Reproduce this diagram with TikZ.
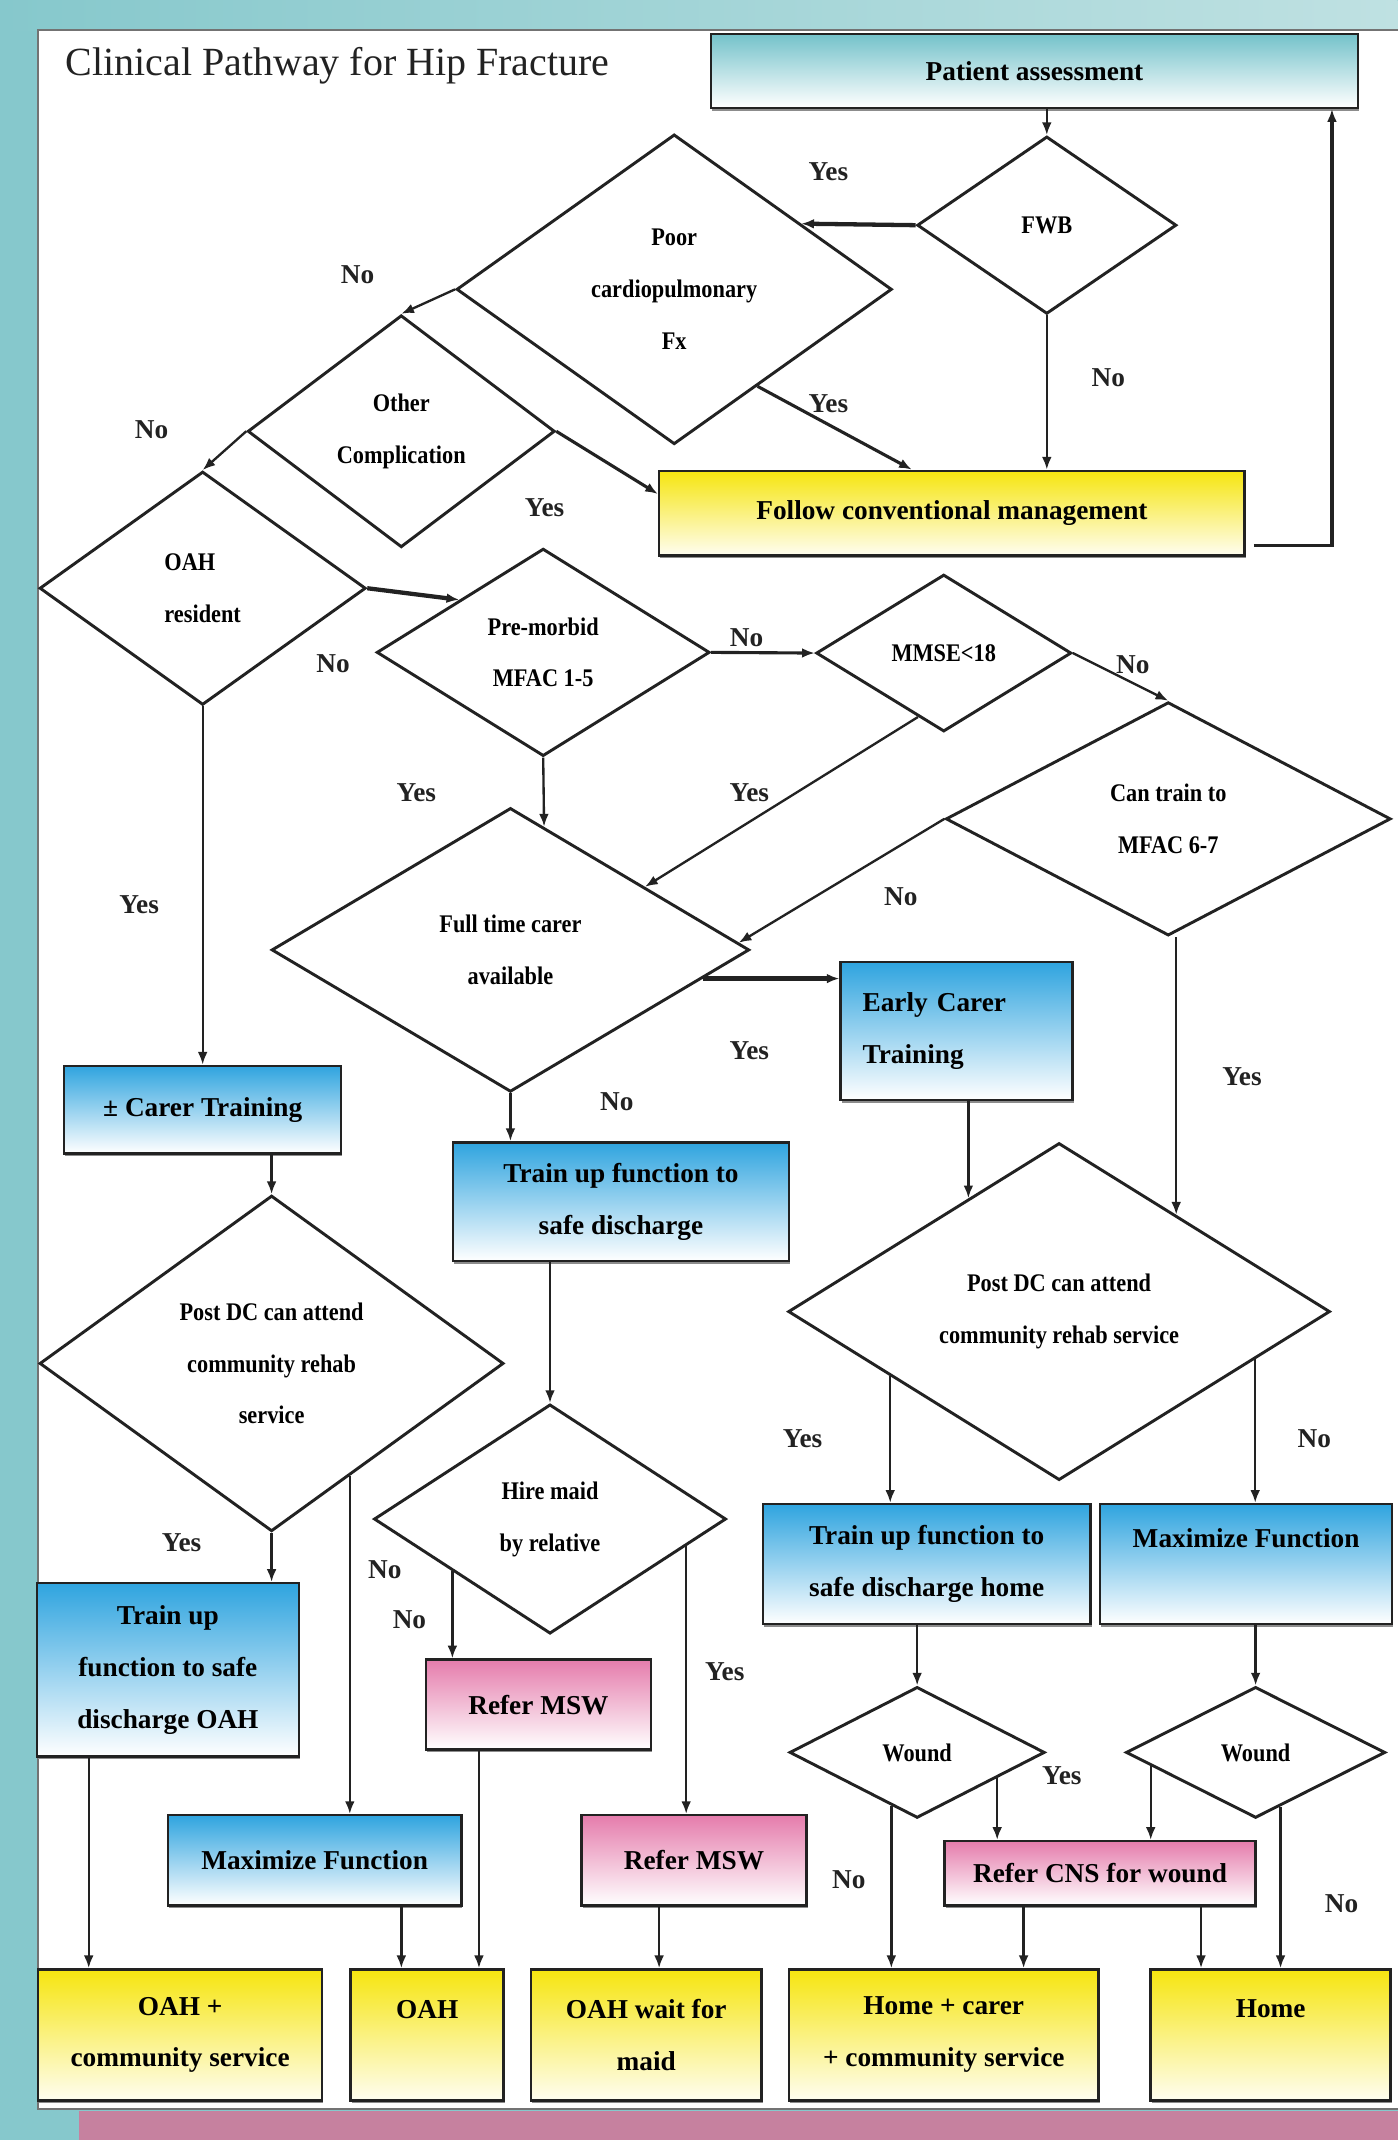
\documentclass[tikz,border=0pt]{standalone}
\usepackage{fontspec}
\setmainfont{Liberation Serif}
\newfontfamily\hipcond[FakeStretch=0.88]{Liberation Serif}
\usetikzlibrary{arrows.meta,shapes.geometric,calc,shadows}
\definecolor{hipInk}{HTML}{222222}
\definecolor{hipTeal}{HTML}{86C8CC}
\definecolor{hipTealLight}{HTML}{BFE1E2}
\definecolor{hipPinkBar}{HTML}{C6819F}
\definecolor{hipBoxTeal}{HTML}{74C2CA}
\definecolor{hipBlue}{HTML}{2FA4DF}
\definecolor{hipYellow}{HTML}{F6E50F}
\definecolor{hipRose}{HTML}{E57CAC}
\newcommand\hipboxfont{\fontsize{14}{26.6}\selectfont\bfseries}
\newcommand\hipdecfont{\hipcond\fontsize{13}{26.6}\selectfont\bfseries}
\tikzset{
  hip/size/.style 2 args={minimum width=#1*0.7pt, minimum height=#2*0.7pt},
  hip/box/.style={draw=hipInk, line width=1.3pt, align=center, inner sep=0pt,
    font=\hipboxfont, drop shadow={shadow xshift=0.6pt, shadow yshift=-1.4pt,
    fill=black!45, opacity=1}},
  hip/blue/.style={hip/box, top color=hipBlue, bottom color=white},
  hip/yellow/.style={hip/box, top color=hipYellow, bottom color=hipYellow!6},
  hip/pink/.style={hip/box, top color=hipRose, bottom color=white},
  hip/teal/.style={hip/box, top color=hipBoxTeal, bottom color=white},
  hip/decision/.style={diamond, draw=hipInk, line width=1.5pt, fill=white,
    align=center, inner sep=0pt, font=\hipdecfont},
  hip/arrow/.style={-{Latex[length=6.5pt,width=5pt]}, draw=hipInk,
    line width=1.2pt},
  hip/heavy/.style={hip/arrow, line width=2.2pt},
  hip/label/.style={font=\hipboxfont, text=hipInk},
  hip/title/.style={font=\fontsize{20.5}{24}\selectfont, text=hipInk},
}

\begin{document}
\begin{tikzpicture}[x=0.7pt, y=-0.7pt]
\useasboundingbox (0,0) rectangle (1024,1568);
% page background
\fill[hipTeal] (0,0) rectangle (1024,1568);
\shade[left color=hipTeal, right color=hipTealLight] (0,0) rectangle (1024,22);
\fill[white] (28,22) rectangle (1024,1545);
\draw[black!55, line width=1pt] (1024,22) -- (28,22) -- (28,1545) -- (1024,1545);
\fill[hipPinkBar] (58,1547) rectangle (1024,1568);

\node[hip/title, anchor=west] (title) at (43,48) {Clinical Pathway for Hip Fracture};

% nodes
\node[hip/teal, hip/size={474}{54}] (assess) at (758,52) {Patient assessment};
\node[hip/decision, hip/size={190}{130}] (fwb) at (767,165) {FWB};
\node[hip/decision, hip/size={319}{227}] (poor) at (494,212) {Poor\\cardiopulmonary\\Fx};
\node[hip/decision, hip/size={225}{170}] (other) at (294,316) {Other\\Complication};
\node[hip/yellow, hip/size={429}{62}] (follow) at (697.5,376) {Follow conventional management};
\node[hip/decision, hip/size={239}{171}, align=left] (oahres) at (148.5,431) {OAH\\resident};
\node[hip/decision, hip/size={244}{152}] (premorbid) at (398,478) {Pre-morbid\\MFAC 1-5};
\node[hip/decision, hip/size={187}{115}] (mmse) at (691.5,478.5) {MMSE<18};
\node[hip/decision, hip/size={326}{171}] (cantrain) at (856,600) {Can train to\\MFAC 6-7};
\node[hip/decision, hip/size={350}{208}] (fulltime) at (374,696) {Full time carer\\available};
\node[hip/blue, hip/size={170}{101}, text width=138*0.7pt, align=left,
  inner xsep=16*0.7pt] (early) at (701,755.5) {Early Carer\\Training};
\node[hip/blue, hip/size={203}{64}] (carer) at (148.5,813) {± Carer Training};
\node[hip/blue, hip/size={246}{87}] (trainmid) at (455,880.5) {Train up function to\\safe discharge};
\node[hip/decision, hip/size={397}{247}] (postdcR) at (776,961) {Post DC can attend\\community rehab service};
\node[hip/decision, hip/size={340}{246}] (postdcL) at (199,999) {Post DC can attend\\community rehab\\service};
\node[hip/decision, hip/size={258}{168}] (hire) at (403,1113) {Hire maid\\by relative};
\node[hip/blue, hip/size={240}{88}] (trainhome) at (679,1146) {Train up function to\\safe discharge home};
\node[hip/blue, hip/size={214}{88}] (maxright) at (913,1146) {Maximize Function\\\mbox{}};
\node[hip/blue, hip/size={192}{127}] (trainoah) at (123,1223.5) {Train up\\function to safe\\discharge OAH};
\node[hip/pink, hip/size={165}{66}] (mswleft) at (394.5,1249) {Refer MSW};
\node[hip/decision, hip/size={187}{96}] (woundL) at (672,1284) {Wound};
\node[hip/decision, hip/size={190}{96}] (woundR) at (920,1284) {Wound};
\node[hip/blue, hip/size={215}{66}] (maxleft) at (230.5,1363) {Maximize Function};
\node[hip/pink, hip/size={165}{66}] (mswright) at (508.5,1363) {Refer MSW};
\node[hip/pink, hip/size={228}{47}] (cns) at (806,1372.5) {Refer CNS for wound};
\node[hip/yellow, hip/size={208}{96}] (oahcomm) at (132,1491) {OAH +\\community service};
\node[hip/yellow, hip/size={112}{96}] (oah) at (313,1491) {OAH\\\mbox{}};
\node[hip/yellow, hip/size={169}{96}] (oahmaid) at (473.5,1491) {OAH wait for\\maid};
\node[hip/yellow, hip/size={227}{96}] (homecarer) at (691.5,1491) {Home + carer\\+ community service};
\node[hip/yellow, hip/size={176}{96}] (home) at (931,1491) {Home\\\mbox{}};

% points on the diamond edges
\coordinate (pdrTop) at ($(postdcR.north)!0.43!(postdcR.east)$);
\coordinate (pdrLeft) at ($(postdcR.west)!0.667!(postdcR.north)$);
\coordinate (pdrYes) at ($(postdcR.west)!0.38!(postdcR.south)$);
\coordinate (pdrNo) at ($(postdcR.east)!0.28!(postdcR.south)$);
\coordinate (wlYes) at ($(woundL.east)!0.38!(woundL.south)$);
\coordinate (wrYes) at ($(woundR.west)!0.2!(woundR.south)$);
\coordinate (wlNo) at ($(woundL.west)!0.8!(woundL.south)$);
\coordinate (wrNo) at ($(woundR.east)!0.81!(woundR.south)$);
\coordinate (pdlNo) at ($(postdcL.east)!0.665!(postdcL.south)$);
\coordinate (hireNo) at ($(hire.west)!0.45!(hire.south)$);
\coordinate (hireYes) at ($(hire.east)!0.233!(hire.south)$);

% connectors
\draw[hip/arrow] (assess.south -| fwb.north) -- (fwb.north);
\draw[hip/heavy] (fwb.west) -- ($(poor.north)!0.58!(poor.east)$);
\draw[hip/arrow] (fwb.south) -- (fwb.south |- follow.north);
\draw[hip/arrow, line width=1.6pt] ($(poor.east)!0.62!(poor.south)$) -- ([xshift=-20.6pt]follow.north);
\draw[hip/arrow] (poor.west) -- (other.north);
\draw[hip/arrow, line width=1.6pt] (other.east) -- ([yshift=9.8pt]follow.west);
\draw[hip/arrow] (other.west) -- (oahres.north);
\draw[hip/arrow, line width=1.6pt] ([xshift=4pt,yshift=-16.8pt]follow.east) -| ([xshift=-14pt]assess.south east);
\draw[hip/heavy] (oahres.east) -- ($(premorbid.west)!0.5!(premorbid.north)$);
\draw[hip/arrow] (oahres.south) -- (oahres.south |- carer.north);
\draw[hip/arrow, line width=1.6pt] (premorbid.east) -- (mmse.west);
\draw[hip/arrow] (premorbid.south) -- ($(fulltime.north)!0.14!(fulltime.east)$);
\draw[hip/arrow] ($(mmse.west)!0.8!(mmse.south)$) -- ($(fulltime.north)!0.56!(fulltime.east)$);
\draw[hip/arrow] (mmse.east) -- (cantrain.north);
\draw[hip/arrow] (cantrain.west) -- ($(fulltime.north)!0.95!(fulltime.east)$);
\draw[hip/arrow] (pdrTop |- cantrain.south) -- (pdrTop);
\draw[hip/heavy] ($(fulltime.east)!0.2!(fulltime.south)$) coordinate (ftEarly) -- (early.west |- ftEarly);
\draw[hip/arrow] (early.south -| pdrLeft) -- (pdrLeft);
\draw[hip/arrow] (fulltime.south) -- (fulltime.south |- trainmid.north);
\draw[hip/arrow] (trainmid.south -| hire.north) -- (hire.north);
\draw[hip/arrow] (pdrYes) -- (pdrYes |- trainhome.north);
\draw[hip/arrow] (pdrNo) -- (pdrNo |- maxright.north);
\draw[hip/arrow] (trainhome.south -| woundL.north) -- (woundL.north);
\draw[hip/arrow] (maxright.south -| woundR.north) -- (woundR.north);
\draw[hip/arrow] (wlYes) -- (wlYes |- cns.north);
\draw[hip/arrow] (wrYes) -- (wrYes |- cns.north);
\draw[hip/arrow] (wlNo) -- (wlNo |- homecarer.north);
\draw[hip/arrow] (wrNo) -- (wrNo |- home.north);
\draw[hip/arrow] ([xshift=-39.2pt]cns.south) -- ([xshift=-39.2pt]cns.south |- homecarer.north);
\draw[hip/arrow] ([xshift=51.8pt]cns.south) -- ([xshift=51.8pt]cns.south |- home.north);
\draw[hip/arrow] (carer.south -| postdcL.north) -- (postdcL.north);
\draw[hip/arrow] (postdcL.south) -- (postdcL.south |- trainoah.north);
\draw[hip/arrow] (pdlNo) -- (pdlNo |- maxleft.north);
\draw[hip/arrow] (hireNo) -- (hireNo |- mswleft.north);
\draw[hip/arrow] (hireYes) -- (hireYes |- mswright.north);
\draw[hip/arrow] ([xshift=-40.6pt]trainoah.south) -- ([xshift=-40.6pt]trainoah.south |- oahcomm.north);
\draw[hip/arrow] ([xshift=44.5pt]maxleft.south) -- ([xshift=44.5pt]maxleft.south |- oah.north);
\draw[hip/arrow] ([xshift=-30.5pt]mswleft.south) -- ([xshift=-30.5pt]mswleft.south |- oah.north);
\draw[hip/arrow] ([xshift=-17.9pt]mswright.south) -- ([xshift=-17.9pt]mswright.south |- oahmaid.north);

% yes / no labels
\node[hip/label] (yesFwb) at (607,126) {Yes};
\node[hip/label] (noFwb) at (812,277) {No};
\node[hip/label] (yesPoor) at (607,296) {Yes};
\node[hip/label] (noPoor) at (262,201) {No};
\node[hip/label] (noOther) at (111,315) {No};
\node[hip/label] (yesOther) at (399,372) {Yes};
\node[hip/label] (noOah) at (244,486) {No};
\node[hip/label] (noPre) at (547,467) {No};
\node[hip/label] (noMmse) at (830,487) {No};
\node[hip/label] (yesPre) at (305,581) {Yes};
\node[hip/label] (yesMmse) at (549,581) {Yes};
\node[hip/label] (noCan) at (660,657) {No};
\node[hip/label] (yesOah) at (102,663) {Yes};
\node[hip/label] (yesFull) at (549,770) {Yes};
\node[hip/label] (yesCan) at (910,789) {Yes};
\node[hip/label] (noFull) at (452,807) {No};
\node[hip/label] (yesPdr) at (588,1054) {Yes};
\node[hip/label] (noPdr) at (963,1054) {No};
\node[hip/label] (yesPdl) at (133,1130) {Yes};
\node[hip/label] (noPdl) at (282,1150) {No};
\node[hip/label] (noHire) at (300,1187) {No};
\node[hip/label] (yesHire) at (531,1225) {Yes};
\node[hip/label] (yesWound) at (778,1301) {Yes};
\node[hip/label] (noWoundL) at (622,1377) {No};
\node[hip/label] (noWoundR) at (983,1395) {No};
\end{tikzpicture}
\end{document}
